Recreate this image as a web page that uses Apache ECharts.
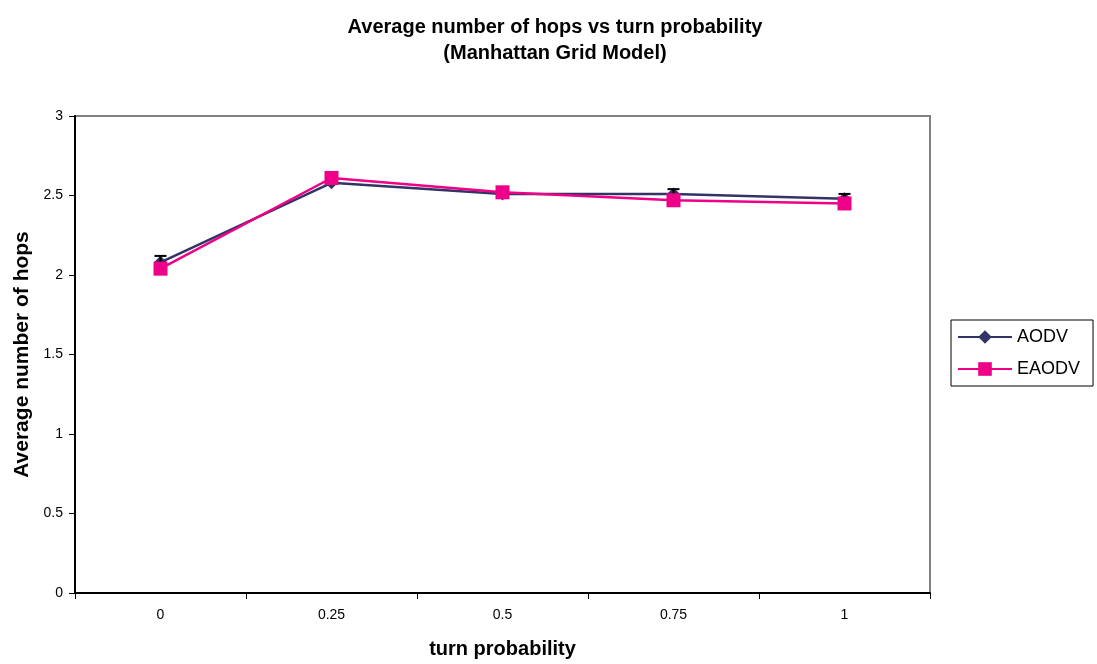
<!DOCTYPE html>
<html>
<head>
<meta charset="utf-8">
<script src="https://cdn.jsdelivr.net/npm/echarts@6/dist/echarts.min.js"></script>
<style>
  html, body { margin: 0; padding: 0; background: #fff; }
  #chart { width: 1097px; height: 664px; }
</style>
</head>
<body>
<div id="chart"></div>
<script>
// Turn probability categories and measured average hop counts
const categories = ['0', '0.25', '0.5', '0.75', '1'];
const aodv = [2.08, 2.58, 2.51, 2.51, 2.48];
const eaodv = [2.04, 2.61, 2.52, 2.47, 2.45];
// Half-width of the AODV error bars
const aodvErr = [0.04, 0.01, 0.01, 0.03, 0.03];

const FONT = 'Liberation Sans, Arial, sans-serif';
const chart = echarts.init(document.getElementById('chart'));

const errData = categories.map((c, i) => [i, aodv[i] - aodvErr[i], aodv[i] + aodvErr[i]]);

chart.setOption({
  animation: false,
  backgroundColor: '#ffffff',
  title: {
    text: 'Average number of hops vs turn probability\n(Manhattan Grid Model)',
    left: 550,
    textAlign: 'center',
    top: 9,
    textStyle: {
      fontFamily: FONT,
      fontSize: 20,
      fontWeight: 'bold',
      color: '#000',
      lineHeight: 26
    }
  },
  legend: {
    orient: 'vertical',
    left: 951,
    top: 320,
    padding: [8, 13, 8, 6],
    itemGap: 14,
    itemWidth: 54,
    itemHeight: 17,
    borderColor: '#000',
    borderWidth: 1,
    backgroundColor: '#fff',
    textStyle: {
      fontFamily: FONT,
      fontSize: 18,
      color: '#000'
    },
    data: ['AODV', 'EAODV']
  },
  grid: {
    left: 75,
    right: 167,
    top: 116,
    bottom: 71,
    show: true,
    borderColor: '#808080',
    borderWidth: 2,
    backgroundColor: '#fff'
  },
  xAxis: {
    type: 'category',
    data: categories,
    boundaryGap: true,
    name: 'turn probability',
    nameLocation: 'middle',
    nameGap: 46,
    nameTextStyle: {
      fontFamily: FONT,
      fontSize: 20,
      fontWeight: 'bold',
      color: '#000'
    },
    axisLine: { lineStyle: { color: '#000', width: 2 } },
    axisTick: { show: true, inside: false, length: 6, lineStyle: { color: '#000' } },
    axisLabel: {
      fontFamily: FONT,
      fontSize: 14,
      color: '#000',
      margin: 15
    },
    splitLine: { show: false }
  },
  yAxis: {
    type: 'value',
    min: 0,
    max: 3,
    interval: 0.5,
    name: 'Average number of hops',
    nameLocation: 'middle',
    nameGap: 42,
    nameRotate: 90,
    nameTextStyle: {
      fontFamily: FONT,
      fontSize: 21,
      fontWeight: 'bold',
      color: '#000'
    },
    axisLine: { show: true, lineStyle: { color: '#000', width: 2 } },
    axisTick: { show: true, inside: false, length: 6, lineStyle: { color: '#000' } },
    axisLabel: {
      fontFamily: FONT,
      fontSize: 14,
      color: '#000',
      margin: 12
    },
    splitLine: { show: false }
  },
  series: [
    {
      name: 'AODV',
      type: 'line',
      data: aodv,
      symbol: 'diamond',
      symbolSize: 13,
      color: '#333366',
      lineStyle: { width: 2.5, color: '#333366' },
      itemStyle: { color: '#333366' },
      z: 2
    },
    {
      name: 'AODV error',
      type: 'custom',
      data: errData,
      z: 3,
      silent: true,
      renderItem: function (params, api) {
        const top = api.coord([api.value(0), api.value(2)]);
        const bot = api.coord([api.value(0), api.value(1)]);
        const s = { stroke: '#000', lineWidth: 2 };
        return {
          type: 'group',
          children: [
            { type: 'line', shape: { x1: top[0], y1: top[1], x2: bot[0], y2: bot[1] }, style: s },
            { type: 'line', shape: { x1: top[0] - 6, y1: top[1], x2: top[0] + 6, y2: top[1] }, style: s }
          ]
        };
      }
    },
    {
      name: 'EAODV',
      type: 'line',
      data: eaodv,
      symbol: 'rect',
      symbolSize: 14,
      color: '#ee0088',
      lineStyle: { width: 2.5, color: '#ee0088' },
      itemStyle: { color: '#ee0088' },
      z: 4
    }
  ]
});
</script>
</body>
</html>
